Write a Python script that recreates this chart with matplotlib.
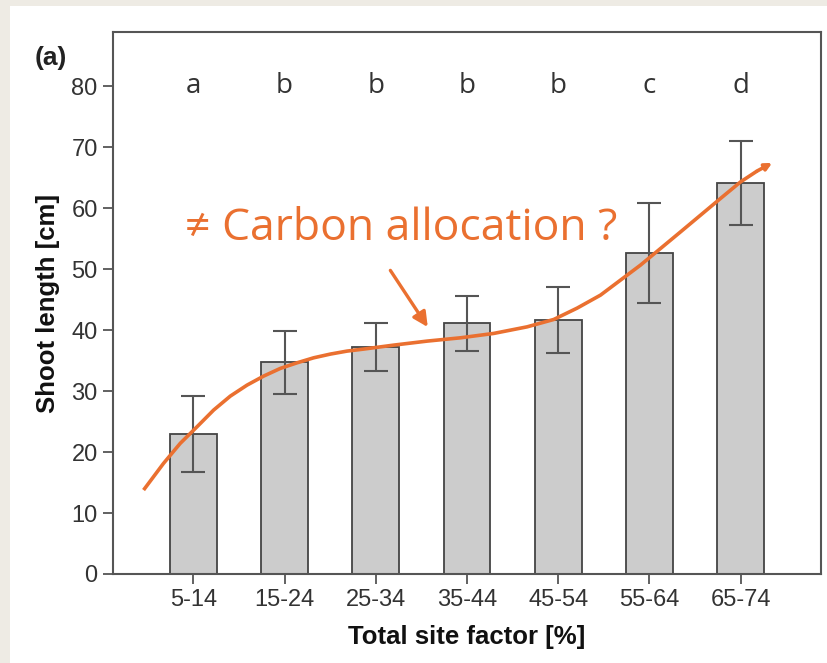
import numpy as np
import matplotlib.pyplot as plt
from matplotlib.patches import Rectangle

# shoot length per site-factor class
classes = ['5-14', '15-24', '25-34', '35-44', '45-54', '55-64', '65-74']
shoot_mean = [23.0, 34.7, 37.2, 41.1, 41.7, 52.6, 64.2]
shoot_err = [6.2, 5.2, 3.9, 4.5, 5.4, 8.2, 6.9]
groups = ['a', 'b', 'b', 'b', 'b', 'c', 'd']

# hand-drawn trend curve (x in class index units, y in cm)
curve_x = [-0.545, -0.326, -0.143, 0.041, 0.223, 0.406, 0.589, 0.771, 0.954,
           1.137, 1.319, 1.502, 1.685, 1.867, 2.196, 2.563, 2.928, 3.293,
           3.659, 3.951, 4.207, 4.463, 4.682, 4.901, 5.121, 5.340, 5.559,
           5.778, 5.998, 6.181, 6.345]
curve_y = [13.77, 18.15, 21.43, 24.15, 26.89, 29.18, 30.98, 32.46, 33.72,
           34.64, 35.46, 36.07, 36.56, 36.89, 37.54, 38.20, 38.74, 39.46,
           40.54, 41.75, 43.61, 45.74, 48.20, 50.66, 53.39, 56.11, 58.85,
           61.59, 64.31, 66.11, 67.43]

orange = '#EA7030'

fig = plt.figure(figsize=(8.28, 6.63), dpi=100)
fig.patch.set_facecolor('#EEEBE4')
fig.patches.append(Rectangle((10 / 828, 0), 1, 1 - 6 / 663, transform=fig.transFigure,
                             facecolor='white', edgecolor='none', zorder=-10))

ax = fig.add_axes([113 / 828, 89 / 663, 708 / 828, 542 / 663])
x = np.arange(len(classes))
ax.bar(x, shoot_mean, width=0.51, color='#CCCCCC', edgecolor='#444444', linewidth=1.3, zorder=2)
ax.errorbar(x, shoot_mean, yerr=shoot_err, fmt='none', ecolor='#555555',
            elinewidth=1.5, capsize=8.5, capthick=1.5, zorder=3)

for xi, g in zip(x, groups):
    ax.text(xi, 80, g, ha='center', va='center', fontsize=20, color='#333333',
            family='Open Sans')

ax.set_xlim(-0.88, 6.88)
ax.set_ylim(0, 88.9)
ax.set_yticks(range(0, 81, 10))
ax.set_xticks(x)
ax.set_xticklabels(classes)
for s in ax.spines.values():
    s.set_color('#555555')
    s.set_linewidth(1.5)
ax.tick_params(direction='out', length=7, width=1.3, color='#555555',
               labelsize=17, labelcolor='#333333', pad=4)
for lab in ax.get_xticklabels() + ax.get_yticklabels():
    lab.set_family('Liberation Sans')
ax.set_xlabel('Total site factor [%]', fontsize=18.5, fontweight='bold',
              family='Liberation Sans', color='#111111', labelpad=10)
ax.set_ylabel('Shoot length [cm]', fontsize=18.5, fontweight='bold',
              family='Liberation Sans', color='#111111', labelpad=8)
fig.text(35 / 828, 1 - 58 / 663, '(a)', fontsize=19, fontweight='bold',
         family='Liberation Sans', color='#222222', va='center')

# trend curve with arrow tip
ax.plot(curve_x[:-1], curve_y[:-1], color=orange, lw=2.6, solid_capstyle='butt',
        solid_joinstyle='round', zorder=4)
ax.annotate('', xy=(curve_x[-1], curve_y[-1]), xytext=(curve_x[-2], curve_y[-2]),
            arrowprops=dict(arrowstyle='-|>', color=orange, lw=2.6,
                            mutation_scale=10, shrinkA=0, shrinkB=0), zorder=4)

ax.text(2.28, 56.7, '\u2260 Carbon allocation ?', fontsize=32, color=orange,
        ha='center', va='center', family=['Open Sans', 'DejaVu Sans'], zorder=5)
ax.annotate('', xy=(2.57, 40.5), xytext=(2.16, 49.8),
            arrowprops=dict(arrowstyle='-|>', color=orange, lw=2.4,
                            mutation_scale=22, shrinkA=0, shrinkB=0), zorder=5)

fig.savefig('out.png', dpi=100)
